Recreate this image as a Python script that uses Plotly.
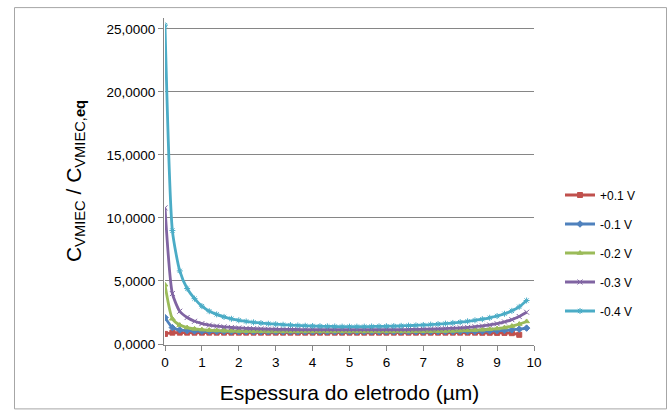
import plotly.graph_objects as go

# ---- data ----
x_um = [0.0, 0.2, 0.4, 0.6, 0.8, 1.0, 1.2, 1.4, 1.6, 1.8,
        2.0, 2.2, 2.4, 2.6, 2.8, 3.0, 3.2, 3.4, 3.6, 3.8,
        4.0, 4.2, 4.4, 4.6, 4.8, 5.0, 5.2, 5.4, 5.6, 5.8,
        6.0, 6.2, 6.4, 6.6, 6.8, 7.0, 7.2, 7.4, 7.6, 7.8,
        8.0, 8.2, 8.4, 8.6, 8.8, 9.0, 9.2, 9.4, 9.6, 9.8]

v_p01 = [0.80, 0.90, 0.90, 0.90, 0.90, 0.90, 0.90, 0.90, 0.90, 0.90,
         0.90, 0.90, 0.90, 0.90, 0.90, 0.90, 0.90, 0.90, 0.90, 0.90,
         0.90, 0.90, 0.90, 0.90, 0.90, 0.90, 0.90, 0.90, 0.90, 0.90,
         0.90, 0.90, 0.90, 0.90, 0.90, 0.90, 0.90, 0.90, 0.90, 0.90,
         0.90, 0.90, 0.90, 0.89, 0.89, 0.88, 0.88, 0.86, 0.73]

v_m01 = [2.10, 1.30, 1.12, 1.06, 1.03, 1.01, 1.00, 0.99, 0.99, 0.98,
         0.98, 0.98, 0.97, 0.97, 0.97, 0.97, 0.97, 0.97, 0.97, 0.97,
         0.97, 0.97, 0.97, 0.97, 0.97, 0.97, 0.97, 0.97, 0.97, 0.97,
         0.97, 0.97, 0.97, 0.97, 0.97, 0.97, 0.97, 0.98, 0.98, 0.98,
         0.99, 0.99, 1.00, 1.01, 1.03, 1.05, 1.08, 1.12, 1.18, 1.26]

v_m02 = [4.70, 2.00, 1.50, 1.30, 1.20, 1.14, 1.10, 1.07, 1.05, 1.04,
         1.03, 1.02, 1.01, 1.01, 1.00, 1.00, 1.00, 1.00, 1.00, 1.00,
         1.00, 1.00, 1.00, 1.00, 1.00, 1.00, 1.00, 1.00, 1.00, 1.00,
         1.00, 1.00, 1.00, 1.00, 1.01, 1.01, 1.02, 1.02, 1.03, 1.04,
         1.06, 1.08, 1.10, 1.13, 1.17, 1.22, 1.30, 1.42, 1.58, 1.79]

v_m03 = [10.80, 4.00, 2.60, 2.10, 1.80, 1.62, 1.50, 1.42, 1.36, 1.31,
         1.27, 1.24, 1.22, 1.20, 1.18, 1.17, 1.16, 1.15, 1.15, 1.14,
         1.14, 1.14, 1.14, 1.14, 1.14, 1.14, 1.14, 1.14, 1.14, 1.14,
         1.14, 1.14, 1.14, 1.15, 1.16, 1.17, 1.18, 1.20, 1.22, 1.25,
         1.28, 1.32, 1.37, 1.43, 1.51, 1.61, 1.75, 1.93, 2.18, 2.52]

v_m04 = [25.30, 9.00, 5.80, 4.40, 3.60, 3.00, 2.60, 2.35, 2.15, 2.00,
         1.88, 1.79, 1.72, 1.66, 1.61, 1.57, 1.53, 1.50, 1.47, 1.45,
         1.43, 1.41, 1.40, 1.39, 1.38, 1.38, 1.38, 1.38, 1.39, 1.40,
         1.41, 1.42, 1.44, 1.46, 1.48, 1.51, 1.54, 1.58, 1.62, 1.67,
         1.73, 1.80, 1.88, 1.97, 2.08, 2.22, 2.40, 2.63, 2.95, 3.45]

series_names = ["+0.1 V", "-0.1 V", "-0.2 V", "-0.3 V", "-0.4 V"]
series_vals = [v_p01, v_m01, v_m02, v_m03, v_m04]
series_colors = ["#C0504D", "#4F81BD", "#9BBB59", "#8064A2", "#4BACC6"]
series_symbols = ["square", "diamond", "triangle-up", "x-thin", "asterisk"]

y_tickvals = [0, 5, 10, 15, 20, 25]
y_ticktext = ["0,0000", "5,0000", "10,0000", "15,0000", "20,0000", "25,0000"]
x_tickvals = [0, 1, 2, 3, 4, 5, 6, 7, 8, 9, 10]

# ---- layout geometry (pixels) ----
W, H = 669, 414
L, R, T, B = 165, 534, 18, 347

fig = go.Figure()
for i, (name, vals, col, sym) in enumerate(zip(series_names, series_vals, series_colors, series_symbols)):
    fig.add_trace(go.Scatter(
        x=x_um[:len(vals)], y=vals, name=name, mode="lines+markers",
        line=dict(color=col, width=2.8, shape="spline", smoothing=0.6),
        marker=dict(symbol=sym, size=5, color=col,
                    line=dict(color=col, width=1)),
        legendgroup=f"g{i}",
    ))

pw, ph = R - L, B - T
def px_x(p):
    return (p - L) / pw
def px_y(p):
    return (B - p) / ph

fig.add_shape(type="rect", xref="paper", yref="paper",
              x0=px_x(14.5), x1=px_x(666.5), y0=px_y(412.5), y1=px_y(7.5),
              line=dict(color="#A6A6A6", width=1), fillcolor="rgba(0,0,0,0)")

axis_font = dict(family="Liberation Sans, Arial, sans-serif", size=13.5, color="#000000")

fig.update_layout(
    width=W, height=H,
    margin=dict(l=L, r=W - R, t=T, b=H - B, pad=1),
    paper_bgcolor="white", plot_bgcolor="white",
    font=dict(family="Liberation Sans, Arial, sans-serif", color="#000000"),
    showlegend=True,
    legend=dict(
        x=px_x(560), y=px_y(182), xanchor="left", yanchor="top",
        font=dict(size=12, family="Liberation Sans, Arial, sans-serif", color="#000000"),
        traceorder="grouped", tracegroupgap=10,
        bgcolor="rgba(0,0,0,0)", itemwidth=30,
    ),
    xaxis=dict(
        range=[0, 10], tickvals=x_tickvals, ticks="outside", ticklen=5,
        tickcolor="#868686", showline=True, linecolor="#868686", linewidth=1,
        showgrid=False, zeroline=False, tickfont=axis_font,
        title=dict(text="Espessura do eletrodo (µm)",
                   font=dict(size=21, family="Liberation Sans, Arial, sans-serif"),
                   standoff=17),
    ),
    yaxis=dict(
        range=[0, (B - T) / 12.72], tickvals=y_tickvals, ticktext=y_ticktext,
        ticks="outside", ticklen=5, tickcolor="#868686",
        showline=True, linecolor="#868686", linewidth=1,
        showgrid=True, gridcolor="#868686", gridwidth=1, zeroline=False,
        tickfont=axis_font,
        title=dict(text="C<sub>VMIEC</sub> / C<sub>VMIEC,<b>eq</b></sub>",
                   font=dict(size=21, family="Liberation Sans, Arial, sans-serif"),
                   standoff=20),
    ),
)

fig.write_html("out.html")
